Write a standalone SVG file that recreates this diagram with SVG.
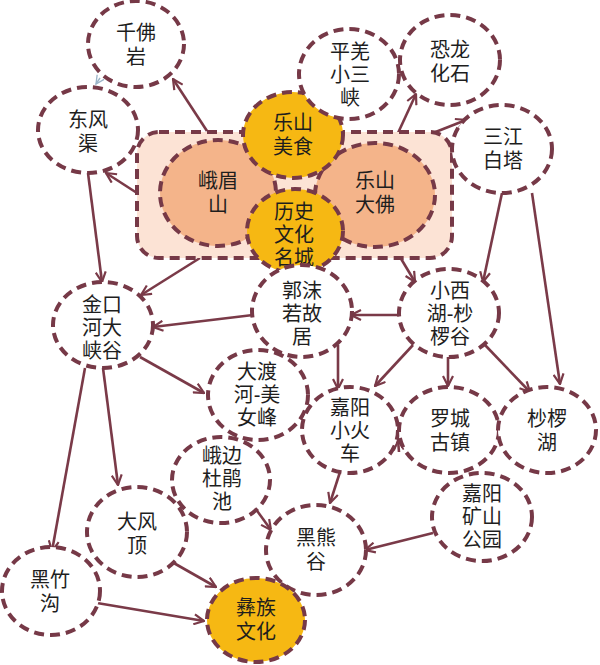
<svg xmlns="http://www.w3.org/2000/svg" width="600" height="665" viewBox="0 0 600 665">
<defs>
<marker id="ah" viewBox="0 0 12 12" refX="11" refY="6" markerWidth="12" markerHeight="12" markerUnits="userSpaceOnUse" orient="auto">
<path d="M1,1 L11,6 L1,11" fill="none" stroke="#7a3a48" stroke-width="2.2"/>
</marker>
<marker id="ahl" viewBox="0 0 12 12" refX="11" refY="6" markerWidth="10" markerHeight="10" markerUnits="userSpaceOnUse" orient="auto">
<path d="M1,1 L11,6 L1,11" fill="none" stroke="#9ab4c8" stroke-width="1.6"/>
</marker>
</defs>
<style>
.n{fill:#fff;stroke:#763947;stroke-width:4;stroke-dasharray:10 6}
.y{fill:#f6b813;stroke:#763947;stroke-width:4;stroke-dasharray:10 6}
.p{fill:#f4b48a;stroke:#763947;stroke-width:4;stroke-dasharray:10 6}
.r{fill:#fce3d5;stroke:#763947;stroke-width:4;stroke-dasharray:10 6}
.c{fill:none;stroke:#7a3a48;stroke-width:2.6;marker-end:url(#ah)}
text{font-family:"Liberation Sans","Noto Sans CJK SC","Noto Sans CJK JP",sans-serif;font-size:20px;fill:#1e1e1e;text-anchor:middle;dominant-baseline:central}
</style>
<rect width="600" height="665" fill="#fff"/>
<g id="connectors">
<line class="c" x1="207" y1="131" x2="173" y2="79"/>
<line class="c" x1="137" y1="193" x2="106" y2="173"/>
<line class="c" x1="398" y1="133" x2="416" y2="94"/>
<line class="c" x1="433" y1="133" x2="466" y2="120"/>
<line class="c" x1="88" y1="173" x2="102" y2="282"/>
<line class="c" x1="200" y1="258" x2="141" y2="295"/>
<line class="c" x1="253" y1="315" x2="153" y2="327"/>
<line class="c" x1="140" y1="357" x2="204" y2="393"/>
<line class="c" x1="400" y1="315" x2="351" y2="315"/>
<line class="c" x1="400" y1="257" x2="415" y2="282"/>
<line class="c" x1="502" y1="193" x2="483" y2="282"/>
<line class="c" x1="532" y1="193" x2="560" y2="384"/>
<line class="c" x1="413" y1="345" x2="375" y2="386"/>
<line class="c" x1="448" y1="357" x2="448" y2="386"/>
<line class="c" x1="485" y1="345" x2="530" y2="392"/>
<line class="c" x1="338" y1="345" x2="338" y2="389"/>
<line class="c" x1="340" y1="472" x2="330" y2="503"/>
<line class="c" x1="433" y1="533" x2="365" y2="550"/>
<line class="c" x1="85" y1="368" x2="52" y2="551"/>
<line class="c" x1="103" y1="368" x2="118" y2="485"/>
<line class="c" x1="172" y1="562" x2="216" y2="587"/>
<line class="c" x1="97" y1="603" x2="204" y2="621"/>
<line class="c" x1="255" y1="508" x2="271" y2="530"/>
<line class="c" x1="399" y1="452" x2="398" y2="440"/>
<line class="c" x1="499" y1="436" x2="499" y2="424"/>
<line fill="none" stroke="#9ab4c8" stroke-width="1.4" marker-end="url(#ahl)" x1="100" y1="78" x2="96" y2="84"/>
</g>
<g id="core-area">
<rect class="r" x="137" y="132" width="315" height="126" rx="22"/>
</g>
<g id="n-emeishan">
<ellipse class="p" cx="218" cy="193" rx="58" ry="53"/>
<text x="218" y="181">峨眉</text><text x="218" y="205">山</text>
</g>
<g id="n-leshandafo">
<ellipse class="p" cx="375" cy="195" rx="60" ry="52"/>
<text x="375" y="181">乐山</text><text x="375" y="205">大佛</text>
</g>
<g id="n-leshanmeishi">
<ellipse class="y" cx="293" cy="135" rx="50" ry="43"/>
<text x="293" y="123">乐山</text><text x="293" y="147">美食</text>
</g>
<g id="n-lishiwenhua">
<ellipse class="y" cx="295" cy="231" rx="48" ry="42"/>
<text x="294" y="212">历史</text><text x="294" y="235">文化</text><text x="294" y="258">名城</text>
</g>
<g id="n-qianfoyan">
<ellipse class="n" cx="136" cy="44" rx="48" ry="43"/>
<text x="136" y="33">千佛</text><text x="136" y="57">岩</text>
</g>
<g id="n-dongfengqu">
<ellipse class="n" cx="88" cy="130" rx="50" ry="43"/>
<text x="88" y="120">东风</text><text x="88" y="144">渠</text>
</g>
<g id="n-pingqiang">
<ellipse class="n" cx="349" cy="74" rx="50" ry="45"/>
<text x="350" y="52">平羌</text><text x="350" y="75">小三</text><text x="350" y="98">峡</text>
</g>
<g id="n-konglong">
<ellipse class="n" cx="450" cy="60" rx="50" ry="45"/>
<text x="450" y="50">恐龙</text><text x="450" y="74">化石</text>
</g>
<g id="n-sanjiang">
<ellipse class="n" cx="502" cy="149" rx="50" ry="44"/>
<text x="503" y="137">三江</text><text x="503" y="161">白塔</text>
</g>
<g id="n-jinkouhe">
<ellipse class="n" cx="103" cy="325" rx="50" ry="43"/>
<text x="102" y="305">金口</text><text x="102" y="328">河大</text><text x="102" y="351">峡谷</text>
</g>
<g id="n-guomoruo">
<ellipse class="n" cx="302" cy="311" rx="50" ry="46"/>
<text x="302" y="291">郭沫</text><text x="302" y="314">若故</text><text x="302" y="337">居</text>
</g>
<g id="n-xiaoxihu">
<ellipse class="n" cx="449" cy="313" rx="50" ry="44"/>
<text x="450" y="291">小西</text><text x="450" y="314">湖-杪</text><text x="450" y="337">椤谷</text>
</g>
<g id="n-daduhe">
<ellipse class="n" cx="258" cy="395" rx="50" ry="45"/>
<text x="257" y="372">大渡</text><text x="257" y="395">河-美</text><text x="257" y="418">女峰</text>
</g>
<g id="n-jiayangtrain">
<ellipse class="n" cx="350" cy="430" rx="48" ry="43"/>
<text x="350" y="408">嘉阳</text><text x="350" y="431">小火</text><text x="350" y="454">车</text>
</g>
<g id="n-luocheng">
<ellipse class="n" cx="449" cy="430" rx="50" ry="43"/>
<text x="450" y="419">罗城</text><text x="450" y="443">古镇</text>
</g>
<g id="n-suoluohu">
<ellipse class="n" cx="547" cy="430" rx="49" ry="43"/>
<text x="547" y="419">杪椤</text><text x="547" y="443">湖</text>
</g>
<g id="n-ebian">
<ellipse class="n" cx="221" cy="480" rx="49" ry="43"/>
<text x="222" y="456">峨边</text><text x="222" y="479">杜鹃</text><text x="222" y="502">池</text>
</g>
<g id="n-dafengding">
<ellipse class="n" cx="137" cy="532" rx="50" ry="45"/>
<text x="137" y="522">大风</text><text x="137" y="546">顶</text>
</g>
<g id="n-heixionggu">
<ellipse class="n" cx="316" cy="550" rx="50" ry="45"/>
<text x="316" y="538">黑熊</text><text x="316" y="562">谷</text>
</g>
<g id="n-kuangshan">
<ellipse class="n" cx="482" cy="517" rx="50" ry="44"/>
<text x="482" y="494">嘉阳</text><text x="482" y="517">矿山</text><text x="482" y="540">公园</text>
</g>
<g id="n-heizhugou">
<ellipse class="n" cx="51" cy="591" rx="49" ry="44"/>
<text x="50" y="580">黑竹</text><text x="50" y="604">沟</text>
</g>
<g id="n-yizu">
<ellipse class="y" cx="256" cy="620" rx="49" ry="42"/>
<text x="256" y="608">彝族</text><text x="256" y="632">文化</text>
</g>
</svg>
